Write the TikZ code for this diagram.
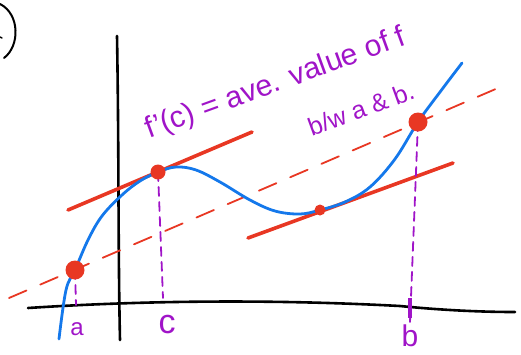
\documentclass[tikz,border=0pt]{standalone}
\usepackage{fontspec}
\setmainfont{Liberation Sans}
\begin{document}
\begin{tikzpicture}[x=1pt,y=-1pt,
  curveblue/.style={draw={rgb,255:red,20;green,120;blue,235},line width=2.8pt,line cap=round},
  redline/.style={draw={rgb,255:red,232;green,55;blue,35},line width=3.6pt,line cap=round},
  secant/.style={draw={rgb,255:red,232;green,55;blue,35},line width=1.8pt,dash pattern=on 19pt off 15pt,line cap=round},
  pdash/.style={draw={rgb,255:red,160;green,20;blue,200},line width=1.8pt,dash pattern=on 9pt off 6pt,line cap=round},
  axisline/.style={draw=black,line width=2.6pt,line cap=round},
  dot/.style={circle,fill={rgb,255:red,232;green,55;blue,35},inner sep=0pt},
  ptext/.style={text={rgb,255:red,160;green,20;blue,200},inner sep=0pt}]
\useasboundingbox (0,0) rectangle (521,354);
% parenthesis at top-left
\draw[line width=2pt,line cap=round] (0,4) .. controls (20,14) and (20,46) .. (4,58);
\draw[line width=1.5pt,line cap=round] (0,37) -- (2,38);
% axes
\draw[axisline] (117,36) .. controls (119,150) and (118,250) .. (120,340);
\draw[axisline] (28,308) .. controls (120,302) and (250,298) .. (400,306) .. controls (440,310) and (480,312) .. (515,312);
% named points
\coordinate (A) at (75,270);
\coordinate (C) at (158,172);
\coordinate (D) at (320,210);
\coordinate (B) at (418,122);
\coordinate (aend) at (76,305);
\coordinate (cend) at (163,298);
\coordinate (bend) at (410,322);
\coordinate (bm1) at (410,298);
\coordinate (bm2) at (410,318);
\coordinate (s1) at (9,298);
\coordinate (s2) at (505,85);
\coordinate (t1a) at (68,210);
\coordinate (t1b) at (252,132);
\coordinate (t2a) at (248,238);
\coordinate (t2b) at (453,163);
% secant
\draw[secant] (s1) -- (s2);
% tangent lines
\draw[redline] (t1a) -- (t1b);
\draw[redline] (t2a) -- (t2b);
% vertical dashed lines
\draw[pdash] (A) -- (aend);
\draw[pdash] (C) -- (cend);
\draw[pdash] (B) -- (bend);
\draw[draw={rgb,255:red,160;green,20;blue,200},line width=4pt] (bm1) -- (bm2);
% blue curve
\draw[curveblue] plot[smooth,tension=0.6] coordinates {(59,339) (66,290) (75,270) (88,240) (102,216) (122,195) (140,181) (158,172) (176,167) (196,170) (220,182) (250,200) (275,211) (300,214) (320,210) (345,202) (370,187) (395,159) (418,122) (440,92) (462,63)};
% dots
\node[dot,minimum size=19pt] (dA) at (A) {};
\node[dot,minimum size=15pt] (dC) at (C) {};
\node[dot,minimum size=11pt] (dD) at (D) {};
\node[dot,minimum size=19pt] (dB) at (B) {};
% labels
\node[ptext,font=\fontsize{24}{24}\selectfont] (la) at (77,329) {a};
\node[ptext,font=\fontsize{34}{34}\selectfont] (lc) at (167,325) {c};
\node[ptext,font=\fontsize{30}{30}\selectfont] (lb) at (410,336) {b};
\node[ptext,font=\fontsize{30}{30}\selectfont,rotate=20] (t1) at (276,84) {f{\char"27}(c) = ave. value of f};
\node[ptext,font=\fontsize{25}{25}\selectfont,rotate=20] (t2) at (361,109) {b/w a \& b.};
\end{tikzpicture}
\end{document}
